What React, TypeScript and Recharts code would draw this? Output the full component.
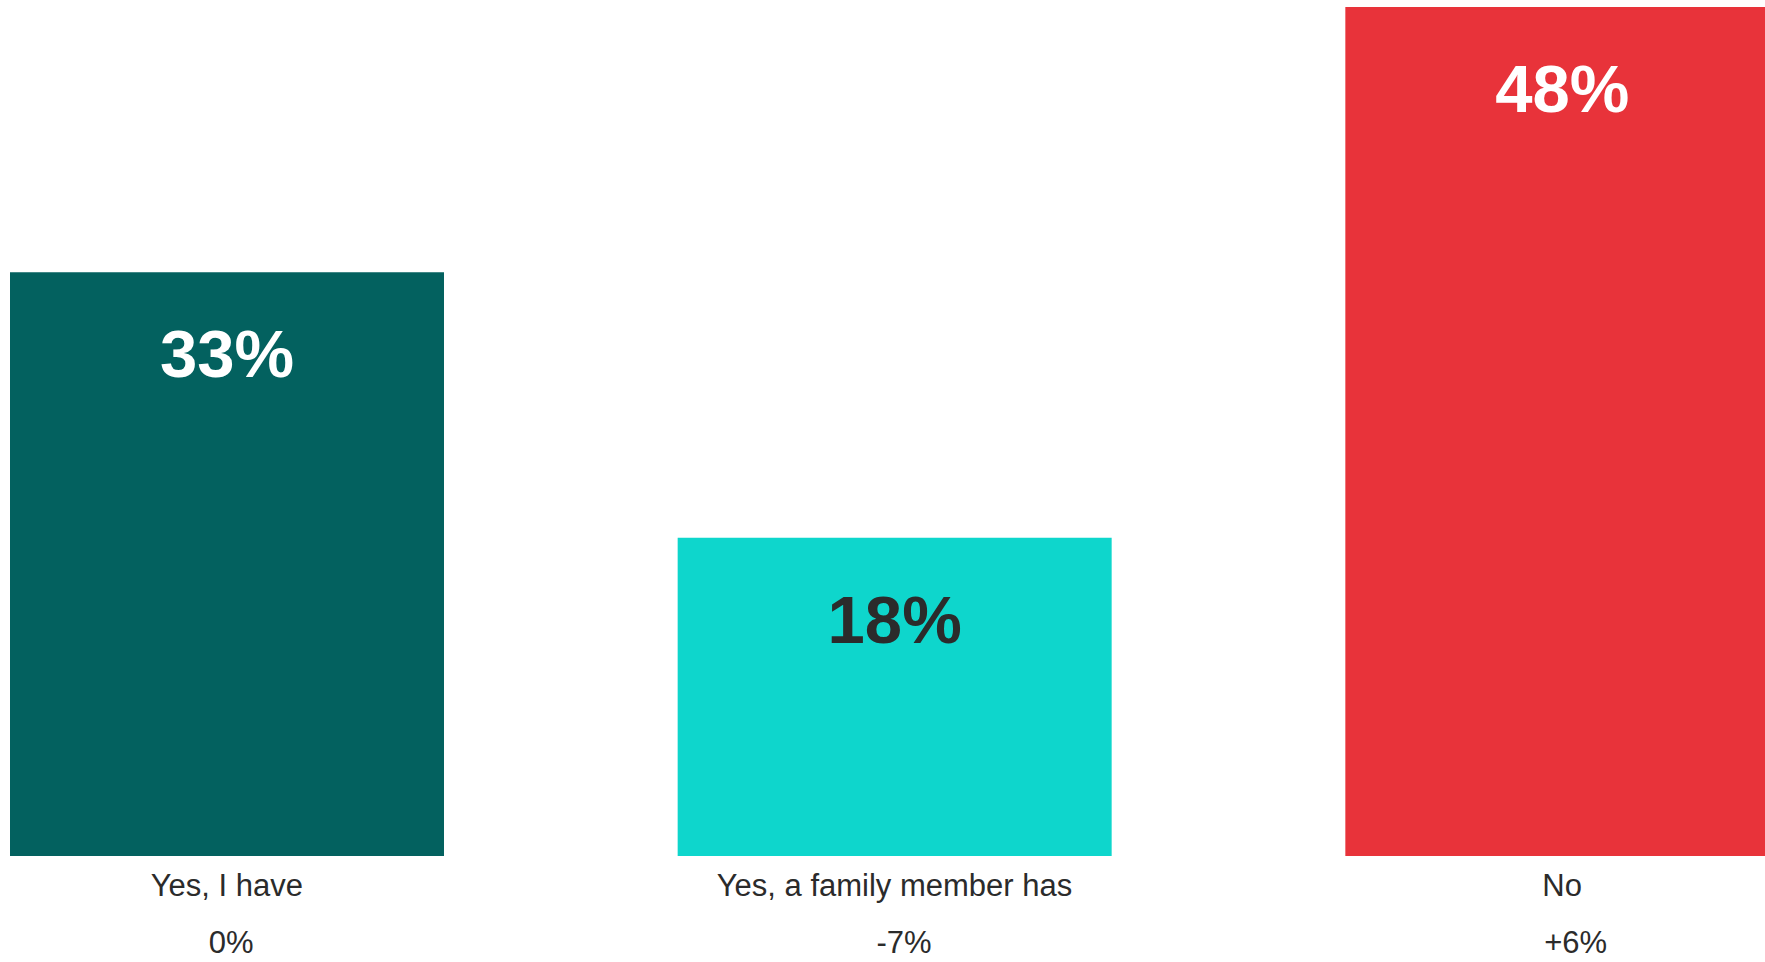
import React from 'react';
import { BarChart, Bar, XAxis, YAxis, Cell, LabelList } from 'recharts';

const categories = ['Yes, I have', 'Yes, a family member has', 'No'];
const shares = [33, 18, 48];
const changes = ['0%', '-7%', '+6%'];
const barColors = ['#03615f', '#0ed6cc', '#e8333a'];
const labelColors = ['#ffffff', '#2b2b2b', '#ffffff'];

const data = categories.map((name, i) => ({ name, value: shares[i], change: changes[i] }));

const FONT = '"Liberation Sans", Arial, sans-serif';

const CategoryTick = (props: any) => {
  const { x, y, payload, index } = props;
  return (
    <g transform={`translate(${x},${y})`}>
      <text textAnchor="middle" y={32} fill="#2b2b2b" fontSize={31} fontFamily={FONT}>
        {payload.value}
      </text>
      <text textAnchor="start" x={-18} y={89} fill="#2b2b2b" fontSize={31} fontFamily={FONT}>
        {changes[index]}
      </text>
    </g>
  );
};

const ValueLabel = (props: any) => {
  const { x, y, width, value, index } = props;
  return (
    <text
      x={x + width / 2}
      y={y + 105}
      textAnchor="middle"
      fill={labelColors[index]}
      fontSize={67}
      fontWeight="bold"
      fontFamily={FONT}
    >
      {value}%
    </text>
  );
};

export default function App() {
  return (
    <div style={{ position: 'fixed', top: 0, left: 0, width: 1765, height: 962, overflow: 'hidden', background: '#fff' }}>
      <div style={{ position: 'absolute', top: 0, left: -107 }}>
        <BarChart width={2003} height={962} data={data} margin={{ top: 7, right: 0, bottom: 0, left: 0 }}>
          <XAxis
            dataKey="name"
            axisLine={false}
            tickLine={false}
            height={106}
            interval={0}
            tick={<CategoryTick />}
          />
          <YAxis hide domain={[0, 48]} />
          <Bar dataKey="value" barSize={434} isAnimationActive={false}>
            {data.map((d, i) => (
              <Cell key={`cell-${i}`} fill={barColors[i]} />
            ))}
            <LabelList dataKey="value" content={<ValueLabel />} />
          </Bar>
        </BarChart>
      </div>
    </div>
  );
}
